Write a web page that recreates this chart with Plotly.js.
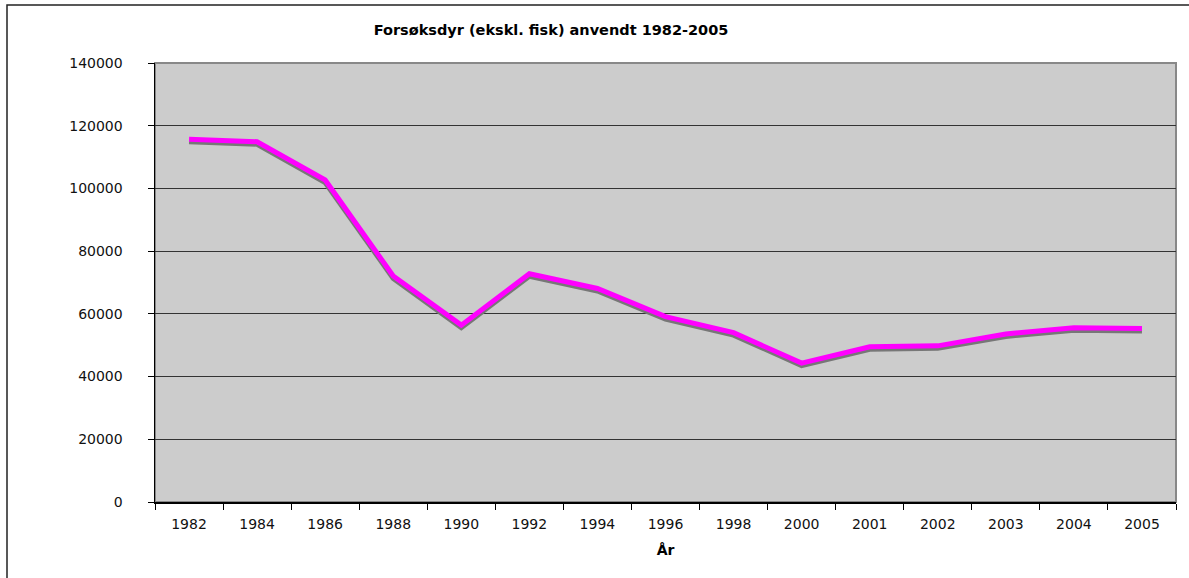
<!DOCTYPE html>
<html>
<head>
<meta charset="utf-8">
<script src="https://cdn.plot.ly/plotly-3.0.1.min.js"></script>
<style>html,body{margin:0;padding:0;background:#fff;}#chart{width:1189px;height:578px;}</style>
</head>
<body>
<div id="chart"></div>
<script>
var years = ["1982","1984","1986","1988","1990","1992","1994","1996","1998","2000","2001","2002","2003","2004","2005"];
var animals = [115700, 114900, 102700, 72100, 56400, 72800, 68100, 59100, 54000, 44300, 49500, 49800, 53600, 55600, 55300];
var yTicks = [0, 20000, 40000, 60000, 80000, 100000, 120000, 140000];

var W = 1189, H = 578;
var mL = 155, mR = 13, mT = 63, mB = 76;
var pw = W - mL - mR, ph = H - mT - mB;
var yMax = 140000;
var shadowPx = 2.5;
var shift = shadowPx / ph * yMax;

function px2x(p){ return (p - mL) / pw; }
function py2y(p){ return (H - mB - p) / ph; }

var font = "DejaVu Sans, Verdana, sans-serif";

var traces = [
  {x: years, y: animals.map(function(v){ return v - shift; }), type: "scatter", mode: "lines",
   line: {color: "#777777", width: 5}, hoverinfo: "skip", showlegend: false},
  {x: years, y: animals, type: "scatter", mode: "lines",
   line: {color: "#FF00FF", width: 5}, showlegend: false}
];

var layout = {
  width: W, height: H,
  margin: {l: mL, r: mR, t: mT, b: mB, pad: 0},
  paper_bgcolor: "#ffffff",
  plot_bgcolor: "#CCCCCC",
  font: {family: font, size: 14, color: "#111"},
  title: {text: "<b>Forsøksdyr (ekskl. fisk) anvendt 1982-2005</b>", font: {family: font, size: 14.5, color: "#000"},
          xref: "container", yref: "container", x: 551 / W, y: 1 - 30 / H, xanchor: "center", yanchor: "middle"},
  xaxis: {type: "category", tickson: "boundaries", ticks: "outside", ticklen: 6, tickcolor: "#000",
          showline: true, linecolor: "#000", linewidth: 1.5, showgrid: false, zeroline: false,
          tickfont: {family: font, size: 14, color: "#111"}, ticklabelstandoff: 9,
          title: {text: "<b>År</b>", font: {family: font, size: 14, color: "#000"}, standoff: 14},
          range: [-0.5, years.length - 0.5]},
  yaxis: {range: [0, yMax], tickvals: yTicks, ticktext: yTicks.map(String), ticks: "outside", ticklen: 6, tickcolor: "#000",
          showline: true, linecolor: "#000", linewidth: 1.5, showgrid: true, gridcolor: "#333", gridwidth: 1,
          zeroline: false, tickfont: {family: font, size: 14, color: "#111"}, ticklabelstandoff: 22},
  shapes: [
    {type: "rect", xref: "paper", yref: "paper", x0: 0, x1: 1, y0: 0, y1: 1,
     line: {color: "#888", width: 2}, layer: "below"},
    {type: "rect", xref: "paper", yref: "paper", x0: px2x(7), x1: px2x(1250), y0: py2y(650), y1: py2y(5),
     line: {color: "#222", width: 1.5}, fillcolor: "rgba(0,0,0,0)", layer: "above"}
  ]
};

Plotly.newPlot("chart", traces, layout, {displayModeBar: false, staticPlot: true});
</script>
</body>
</html>
